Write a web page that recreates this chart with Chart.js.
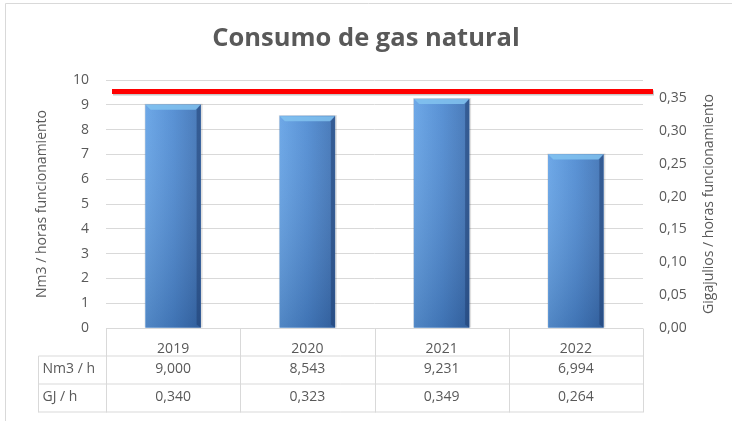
<!DOCTYPE html>
<html>
<head>
<meta charset="utf-8">
<script src="https://cdn.jsdelivr.net/npm/chart.js@4/dist/chart.umd.min.js"></script>
<style>
  html, body { margin: 0; padding: 0; background: #fff; }
  #wrap { position: relative; width: 732px; height: 421px; }
</style>
</head>
<body>
<div id="wrap"><canvas id="myChart" width="732" height="421"></canvas></div>
<script>
// data
var years = ["2019", "2020", "2021", "2022"];
var nm3 = [9.000, 8.543, 9.231, 6.994];
var gj = [0.340, 0.323, 0.349, 0.264];
var rowLabels = ["Nm3 / h", "GJ / h"];
var limitGJ = 0.36;
var rightTitle = "Gigajulios / horas funcionamiento";

var grey = "#595959";
var lineGrey = "#d9d9d9";
var FONT = "'Open Sans', sans-serif";

function comma(v, d) {
  return v.toFixed(d).replace(".", ",");
}

// chart frame (only top + left edges show in the crop)
var framePlugin = {
  id: "frame",
  beforeDraw: function (chart) {
    var c = chart.ctx;
    c.save();
    c.strokeStyle = lineGrey;
    c.lineWidth = 1;
    c.beginPath();
    c.moveTo(5.5, 421);
    c.lineTo(5.5, 3.5);
    c.lineTo(732, 3.5);
    c.stroke();
    c.restore();
  }
};

// shading + bevel on the bars
var barLookPlugin = {
  id: "barLook",
  beforeDatasetsDraw: function (chart) {
    var c = chart.ctx;
    chart.getDatasetMeta(0).data.forEach(function (bar) {
      c.save();
      c.fillStyle = "rgba(0,0,0,0.12)";
      c.fillRect(bar.x - bar.width / 2 - 1, bar.y - 1, bar.width + 3, bar.base - bar.y + 1);
      c.restore();
    });
  },
  afterDatasetsDraw: function (chart) {
    var c = chart.ctx;
    var meta = chart.getDatasetMeta(0);
    meta.data.forEach(function (bar) {
      var l = bar.x - bar.width / 2, r = bar.x + bar.width / 2;
      var t = bar.y, b = bar.base;
      c.save();
      var vg = c.createLinearGradient(0, t, 0, b);
      vg.addColorStop(0, "rgba(255,255,255,0.06)");
      vg.addColorStop(1, "rgba(0,20,60,0.2)");
      c.fillStyle = vg;
      c.fillRect(l, t, r - l, b - t);
      // top bevel
      c.beginPath();
      c.moveTo(l, t);
      c.lineTo(r, t);
      c.lineTo(r - 5, t + 5);
      c.lineTo(l + 5, t + 5);
      c.closePath();
      c.fillStyle = "rgba(130,195,240,0.85)";
      c.fill();
      // dark right edge
      c.fillStyle = "rgba(30,60,110,0.5)";
      c.beginPath();
      c.moveTo(r, t);
      c.lineTo(r, b);
      c.lineTo(r - 4, b - 3);
      c.lineTo(r - 4, t + 5);
      c.closePath();
      c.fill();
      c.restore();
    });
  }
};

// red limit line, on the right axis
var limitPlugin = {
  id: "limit",
  afterDatasetsDraw: function (chart) {
    var c = chart.ctx;
    var y = chart.scales.y1.getPixelForValue(limitGJ);
    var a = chart.chartArea;
    c.save();
    c.strokeStyle = "rgba(0,0,0,0.22)";
    c.lineWidth = 5;
    c.beginPath();
    c.moveTo(a.left + 7, y + 1.5);
    c.lineTo(a.right + 11, y + 1.5);
    c.stroke();
    c.strokeStyle = "#ff0000";
    c.beginPath();
    c.moveTo(a.left + 6, y);
    c.lineTo(a.right + 10, y);
    c.stroke();
    c.restore();
  }
};

// right axis title, read bottom to top like the left one
var rightTitlePlugin = {
  id: "rightTitle",
  afterDraw: function (chart) {
    var c = chart.ctx;
    var a = chart.chartArea;
    c.save();
    c.translate(709, (a.top + a.bottom) / 2);
    c.rotate(-Math.PI / 2);
    c.fillStyle = grey;
    c.font = "14px " + FONT;
    c.textAlign = "center";
    c.textBaseline = "middle";
    c.fillText(rightTitle, 0, 0);
    c.restore();
  }
};

// data table under the plot
var tablePlugin = {
  id: "dataTable",
  afterDraw: function (chart) {
    var c = chart.ctx;
    var x = chart.scales.x;
    var a = chart.chartArea;
    var top = a.bottom + 0.5;
    var rowH = 28;
    var leftEdge = 38.5;
    var colW = (a.right - a.left) / years.length;
    c.save();
    c.strokeStyle = lineGrey;
    c.lineWidth = 1;
    c.beginPath();
    c.moveTo(a.left, top); c.lineTo(a.right, top);
    for (var r = 1; r <= 3; r++) {
      c.moveTo(leftEdge, top + rowH * r - 0.5);
      c.lineTo(a.right, top + rowH * r - 0.5);
    }
    c.moveTo(leftEdge, top + rowH - 0.5); c.lineTo(leftEdge, top + rowH * 3);
    for (var i = 0; i <= years.length; i++) {
      var vx = Math.round(a.left + colW * i) + 0.5;
      c.moveTo(vx, top); c.lineTo(vx, top + rowH * 3);
    }
    c.stroke();

    c.fillStyle = grey;
    c.font = "14px " + FONT;
    c.textBaseline = "middle";
    var rows = [nm3.map(function (v) { return comma(v, 3); }),
                gj.map(function (v) { return comma(v, 3); })];
    rows.forEach(function (vals, ri) {
      var cy = top + rowH * (ri + 1) + rowH / 2 - 1;
      c.textAlign = "left";
      c.fillText(rowLabels[ri], leftEdge + 4, cy);
      c.textAlign = "center";
      vals.forEach(function (s, k) {
        c.fillText(s, x.getPixelForValue(k), cy);
      });
    });
    c.restore();
  }
};

var barFill = function (ctx) {
  var chart = ctx.chart;
  if (!chart.chartArea) return "#4f81bd";
  var cx = chart.scales.x.getPixelForValue(ctx.dataIndex);
  var g = chart.ctx.createLinearGradient(cx - 28, 0, cx + 28, 0);
  g.addColorStop(0, "#65a3e6");
  g.addColorStop(0.5, "#4f8bd2");
  g.addColorStop(1, "#3d70b2");
  return g;
};

new Chart("myChart", {
  type: "bar",
  data: {
    labels: years,
    datasets: [{
      label: "Nm3 / h",
      data: nm3,
      yAxisID: "y",
      backgroundColor: barFill,
      borderWidth: 0,
      barThickness: 55
    }]
  },
  options: {
    responsive: false,
    animation: false,
    layout: { padding: 0 },
    plugins: {
      legend: { display: false },
      tooltip: { enabled: false },
      title: {
        display: true,
        text: "Consumo de gas natural",
        color: grey,
        font: { family: FONT, size: 25.5, weight: "bold", lineHeight: 1.2 },
        padding: { top: 23, bottom: 26.4 }
      }
    },
    scales: {
      x: {
        grid: { display: false },
        border: { display: false },
        ticks: { color: grey, font: { family: FONT, size: 14 }, padding: 5, maxRotation: 0 },
        afterFit: function (s) { s.height = 93; }
      },
      y: {
        position: "left",
        min: 0,
        max: 10,
        ticks: { stepSize: 1, color: grey, font: { family: FONT, size: 14 }, padding: 17 },
        grid: { color: lineGrey, drawTicks: false },
        border: { display: false },
        title: {
          display: true,
          text: "Nm3 / horas funcionamiento",
          color: grey,
          font: { family: FONT, size: 14 },
          padding: { top: 33.6, bottom: 0 }
        },
        afterFit: function (s) { s.width = 106; }
      },
      y1: {
        position: "right",
        min: 0,
        max: 0.3775,
        ticks: {
          stepSize: 0.05,
          color: grey,
          font: { family: FONT, size: 14 },
          padding: 16,
          callback: function (v) { return comma(v, 2); }
        },
        afterBuildTicks: function (s) {
          s.ticks = s.ticks.filter(function (t) {
            return Math.abs(t.value / 0.05 - Math.round(t.value / 0.05)) < 1e-6;
          });
        },
        grid: { display: false, drawTicks: false },
        border: { display: false },
        afterFit: function (s) { s.width = 89; }
      }
    }
  },
  plugins: [framePlugin, barLookPlugin, limitPlugin, rightTitlePlugin, tablePlugin]
});
</script>
</body>
</html>
